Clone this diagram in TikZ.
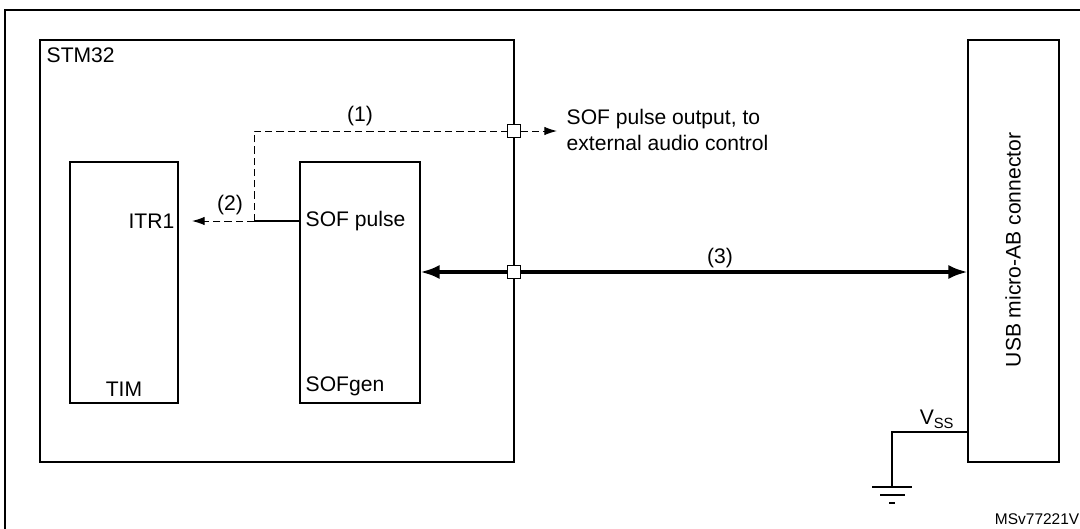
\documentclass[tikz,border=0pt]{standalone}
\usepackage{fontspec}
\setmainfont{Liberation Sans}
\usetikzlibrary{arrows.meta,positioning}
\begin{document}
\begin{tikzpicture}[x=0.025cm,y=-0.025cm,
    font=\fontsize{15}{18}\selectfont,
    blk/.style={draw,line width=1.1pt},
    pin/.style={draw,fill=white,line width=0.8pt,minimum size=9pt,inner sep=0pt},
    dsh/.style={line width=0.7pt,dash pattern=on 5pt off 3pt},
    lbl/.style={inner sep=1pt}]
    % frame
    \useasboundingbox (0,0) rectangle (1080,528);
    \clip (0,0) rectangle (1080,528);
    \draw[line width=1.4pt] (5,540) -- (5,10) -- (1090,10);

    % blocks
    \draw[blk] (40,40) rectangle (514,462);
    \node[lbl,anchor=north west] (stm) at (45,46) {STM32};
    \draw[blk] (968,40) rectangle (1059,462);
    \node[rotate=90] (usb) at (1013,250) {USB micro-AB connector};
    \draw[blk] (70,162) rectangle (178,403);
    \node[lbl,anchor=east] (itr) at (176,221) {ITR1};
    \node[lbl,anchor=south] (tim) at (124,398) {TIM};
    \draw[blk] (300,162) rectangle (420,403);
    \node[lbl,anchor=west] (pulse) at (304,221) {SOF pulse};
    \node[lbl,anchor=south] (gen) at (345,398) {SOFgen};

    % pins
    \node[pin] (p1) at (514,131) {};
    \coordinate (j) at (254,221);
    \coordinate (tip1) at (557,131);
    \coordinate (tip2) at (192,221);
    \coordinate (g) at (420,272);
    \coordinate (u) at (968,272);

    % signals
    \draw[line width=0.8pt] (j) -- (300,221);
    \draw[dsh] (j) |- (p1);
    \draw[dsh,-{Latex[length=9pt,width=6pt]}] (p1) -- (tip1);
    \draw[dsh,-{Latex[length=9pt,width=6pt]}] (j) -- (tip2);
    \draw[line width=2.8pt,{Latex[length=14pt,width=10pt]}-{Latex[length=14pt,width=10pt]}] (g) -- (u);
    \node[pin] (p3) at (514,272) {};
    \node (l1) at (360,116) {(1)};
    \node (l2) at (230,205) {(2)};
    \node (l3) at (720,258) {(3)};
    \node[lbl,anchor=west,align=left] (out) at (565,130) {SOF pulse output, to\\external audio control};

    % ground
    \draw[line width=0.8pt] (968,432) -- (892,432) -- (892,487);
    \draw[line width=1.2pt] (872,487) -- (912,487) (880,495) -- (905,495) (889,503) -- (895,503);
    \node[lbl,anchor=south] (vss) at (937,430) {V\textsubscript{SS}};
    \node[font=\fontsize{11}{13}\selectfont,anchor=west] (ref) at (990,519) {MSv77221V1};
\end{tikzpicture}
\end{document}
